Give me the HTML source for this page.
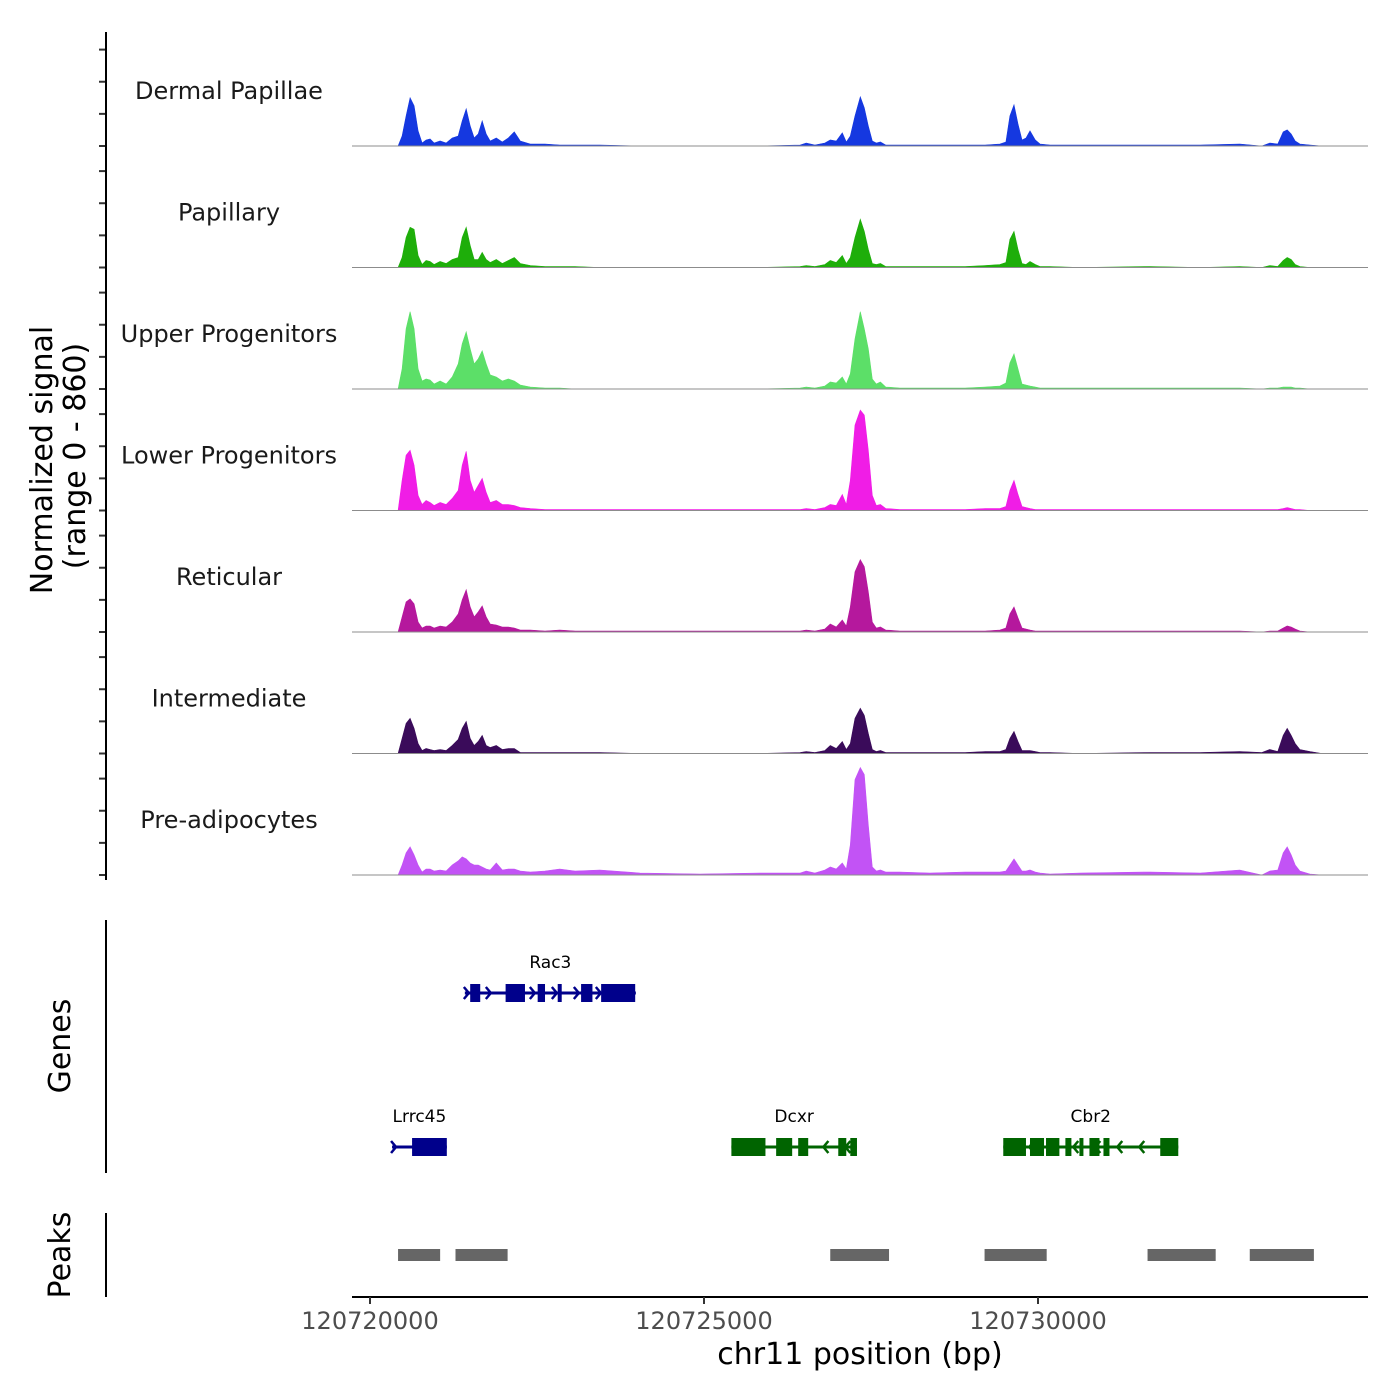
<!DOCTYPE html>
<html><head><meta charset="utf-8">
<style>
html,body{margin:0;padding:0;background:#fff;}
svg{display:block;font-family:"DejaVu Sans","Liberation Sans",sans-serif;}
</style></head>
<body>
<svg id="chart" width="1400" height="1400" viewBox="0 0 1400 1400" xmlns="http://www.w3.org/2000/svg"></svg>
<script>
const chromStart = 120720000;
const trackNames = ["Dermal Papillae","Papillary","Upper Progenitors","Lower Progenitors","Reticular","Intermediate","Pre-adipocytes"];
const trackColors = ["#1538e0","#1eae0a","#5cdf68","#f01de6","#b5189d","#3a0b5a","#c253f5"];
const xTicks = [120720000,120725000,120730000];
const positions = [420,480,540,600,660,720,780,840,900,960,1050,1140,1230,1320,1380,1440,1500,1560,1620,1680,1740,1800,1890,1980,2070,2160,2250,
2400,2620,2840,3070,3440,4040,4940,5840,6440,
6530,6660,6810,6890,6980,7070,7130,7190,7260,7340,7400,7460,7520,7580,7640,7720,7930,
8380,8910,9210,9430,9520,9580,9640,9700,9760,9820,9880,9960,10030,10180,10630,
11680,12430,13020,13350,13470,13590,13670,13730,13790,13850,13920,14070,14250];
const dermal = [0,10,30,48,40,15,3,6,7,3,5,3,8,10,25,37,20,8,12,25,12,5,8,4,8,14,5, 2,2,1,1,1,0,0,0,1, 3,1,3,6,5,13,4,10,30,49,38,20,5,3,4,1,1, 1,1,1,2,4,30,41,22,6,8,15,6,2,1,1, 1,1,2,0,3,2,14,16,12,5,2,1,0];
const papillary = [0,10,30,40,38,12,3,7,6,3,6,4,8,10,30,40,22,8,8,15,8,5,8,4,7,10,4, 2,1,1,1,0,0,0,0,1, 2,1,3,7,5,12,4,10,30,48,36,18,4,3,4,1,1, 1,1,2,3,5,28,36,18,4,3,6,3,1,1,0, 1,0,1,0,2,1,7,10,8,3,1,0,0];
const upper = [0,20,60,77,60,20,8,10,9,5,8,5,12,25,45,57,40,25,30,38,25,14,12,8,10,8,4, 2,1,1,0,0,0,0,0,1, 2,1,3,7,6,12,5,15,50,77,60,40,10,5,7,2,1, 1,1,2,3,6,26,35,20,5,4,3,2,1,1,1, 1,1,1,0,1,1,2,2,2,1,1,0,0];
const lower = [0,30,55,60,45,15,6,10,8,5,8,6,12,20,45,59,30,18,25,32,18,8,10,6,6,5,3, 2,1,1,1,1,1,1,1,1, 2,1,3,6,5,16,6,30,85,100,95,60,15,5,6,2,1, 1,1,2,2,4,20,30,16,4,3,2,1,1,1,1, 1,1,1,1,1,1,2,3,2,1,1,0,0];
const reticular = [0,15,30,33,28,10,4,6,6,4,6,5,10,18,32,42,25,15,20,26,15,8,7,5,5,4,2, 2,1,2,1,1,1,1,1,1, 2,1,3,8,5,12,6,25,60,72,65,40,10,4,5,2,1, 1,1,1,2,4,18,25,14,4,3,2,1,1,1,1, 1,1,1,0,1,1,4,6,5,3,1,0,0];
const intermediate = [0,15,30,35,25,10,3,5,4,3,4,3,8,14,25,32,15,8,12,18,8,6,8,4,5,5,1, 1,1,1,1,1,0,0,0,1, 2,1,3,8,5,12,4,10,35,45,38,20,4,2,3,1,1, 1,1,2,2,4,15,22,12,3,3,3,2,1,1,0, 1,1,2,1,4,2,18,25,18,10,4,2,0];
const preadip = [0,10,22,28,20,10,3,6,6,4,5,4,10,14,18,16,12,10,10,8,6,5,12,5,6,6,4, 3,4,6,4,5,2,1,2,2, 4,2,5,8,6,12,6,30,95,107,100,50,8,4,5,3,3, 2,3,3,3,4,10,16,10,4,4,5,3,2,1,2, 3,2,5,0,4,5,22,28,20,10,4,1,0];
const yTickValues = [0,32,64,96];
const genes = [
 {name:"Rac3", row:0, start:1420, end:3980, color:"#00008b", strand:1,
  exons:[[1500,1650],[2030,2320],[2510,2620],[2810,2870],[3160,3330],[3460,3970]]},
 {name:"Lrrc45", row:1, start:330, end:1150, color:"#00008b", strand:1,
  exons:[[630,1150]]},
 {name:"Dcxr", row:1, start:5410, end:7290, color:"#006400", strand:-1,
  exons:[[5410,5920],[6080,6320],[6410,6560],[7010,7130],[7190,7290]]},
 {name:"Cbr2", row:1, start:9480, end:12100, color:"#006400", strand:-1,
  exons:[[9480,9820],[9880,10090],[10120,10320],[10410,10500],[10620,10680],[10770,10920],[10980,11070],[11830,12100]]}
];
const peakStarts = [420,1280,6890,9200,11640,13170];
const peakEnds = [1050,2060,7770,10130,12660,14130];

const svg = document.getElementById('chart');
const NS = "http://www.w3.org/2000/svg";
function mk(tag, attrs, parent){const e=document.createElementNS(NS,tag);for(const k in attrs)e.setAttribute(k,attrs[k]);(parent||svg).appendChild(e);return e;}
const pxPerBp = 334/5000;
function xs(bp){return 370 + (bp - chromStart)*pxPerBp;}
function xo(off){return xs(chromStart+off);}
const trackH = 121.5, yMax = 121, base0 = 146;
function ys(v,i){return base0 + i*trackH - v/yMax*trackH;}

const series = [dermal,papillary,upper,lower,reticular,intermediate,preadip];
series.forEach((vals,i)=>{
  const base = base0 + i*trackH;
  const g = mk('g',{});
  
  
  let d = 'M'+xo(positions[0]).toFixed(1)+','+base;
  positions.forEach((p,j)=>{d += ' L'+xo(p).toFixed(1)+','+ys(vals[j],i).toFixed(1);});
  d += ' L'+xo(positions[positions.length-1]).toFixed(1)+','+base+' Z';
  const a = mk('path',{d:d,fill:trackColors[i],stroke:trackColors[i],'stroke-width':0.6},g);
  
  
  const l = mk('line',{x1:352,x2:1368,y1:base,y2:base,stroke:'#8c8c8c','stroke-width':1},g);
  
  
  const t = mk('text',{x:229,y:base-47,'text-anchor':'middle','font-size':24,fill:'#1a1a1a'},g);
  t.textContent = trackNames[i];
  
  
  yTickValues.forEach(v=>{
    const y = ys(v,i);
    const tk = mk('line',{x1:99,x2:106,y1:y,y2:y,stroke:'#333','stroke-width':2});
    
    
  });
});

const ax = mk('line',{x1:106,x2:106,y1:32,y2:880,stroke:'#000','stroke-width':2});


const yt = mk('text',{transform:'translate(52,460) rotate(-90)','text-anchor':'middle','font-size':30,fill:'#000'});
yt.textContent='Normalized signal';


const yt2 = mk('text',{transform:'translate(85,456) rotate(-90)','text-anchor':'middle','font-size':30,fill:'#000'});
yt2.textContent='(range 0 - 860)';



const ga = mk('line',{x1:106,x2:106,y1:920,y2:1173,stroke:'#000','stroke-width':2});


const gt = mk('text',{transform:'translate(70,1046) rotate(-90)','text-anchor':'middle','font-size':30,fill:'#000'});
gt.textContent='Genes';


genes.forEach(gn=>{
  const y = gn.row===0 ? 993 : 1147;
  const g = mk('g',{});
  
  
  const x1 = xo(gn.start), x2 = xo(gn.end);
  mk('line',{x1:x1,x2:x2,y1:y,y2:y,stroke:gn.color,'stroke-width':3},g);
  for(let x=x1+4;x<x2;x+=22){
    const s=gn.strand, w=5;
    mk('polyline',{points:`${x-w*s},${y-6} ${x},${y} ${x-w*s},${y+6}`,fill:'none',stroke:gn.color,'stroke-width':2.5},g);
  }
  gn.exons.forEach(ex=>{
    const r = mk('rect',{x:xo(ex[0]),y:y-9,width:xo(ex[1])-xo(ex[0]),height:18,fill:gn.color},g);
    
    
  });
  const lb = mk('text',{x:(x1+x2)/2,y:y-25,'text-anchor':'middle','font-size':17,fill:'#000'},g);
  lb.textContent = gn.name;
  
  
});

const pa = mk('line',{x1:106,x2:106,y1:1213,y2:1297,stroke:'#000','stroke-width':2});


const pt = mk('text',{transform:'translate(70,1255) rotate(-90)','text-anchor':'middle','font-size':30,fill:'#000'});
pt.textContent='Peaks';


peakStarts.forEach((s,i)=>{
  const r = mk('rect',{x:xo(s),y:1249,width:xo(peakEnds[i])-xo(s),height:12,fill:'#666666'});
  
  
});

const xa = mk('line',{x1:352,x2:1368,y1:1297,y2:1297,stroke:'#000','stroke-width':2});


xTicks.forEach(v=>{
  const x = xs(v);
  const tk = mk('line',{x1:x,x2:x,y1:1297,y2:1304,stroke:'#333','stroke-width':2});
  
  
  const t = mk('text',{x:x,y:1329,'text-anchor':'middle','font-size':24,fill:'#4d4d4d'});
  t.textContent = String(v);
  
  
});
const xt = mk('text',{x:860,y:1364,'text-anchor':'middle','font-size':30,fill:'#000'});
xt.textContent='chr11 position (bp)';


</script>
</body></html>
